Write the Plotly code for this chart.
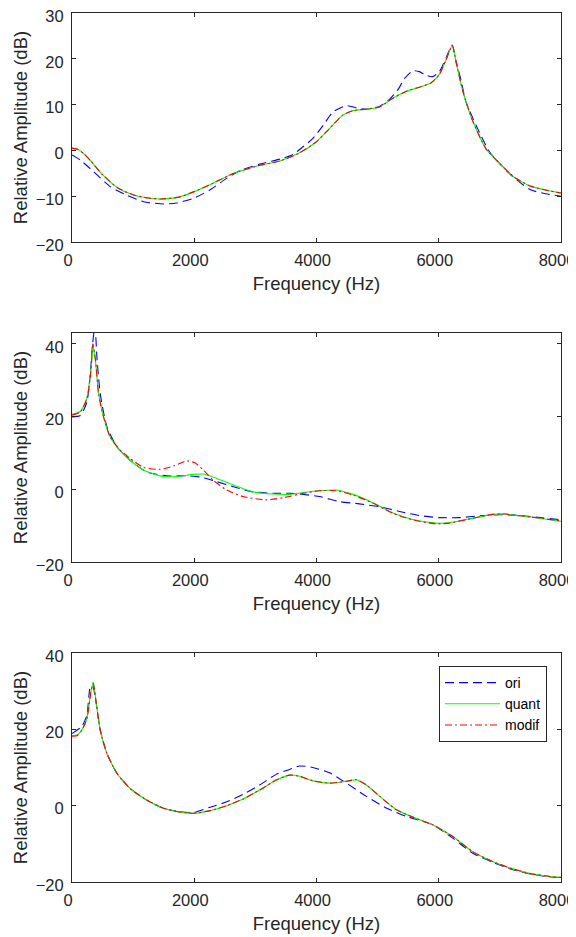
import plotly.graph_objects as go

# ---- data (frequency in Hz, amplitude in dB) ----
# panel 1
f1_ori = [0, 135, 350, 625, 900, 1170, 1500, 1710, 2000, 2260, 2530, 2750, 3070, 3400, 3600, 3780, 3940,
          4110, 4270, 4490, 4650, 4810, 5030, 5190, 5330, 5440, 5575, 5680, 5790, 5900, 6010, 6120, 6220,
          6280, 6360, 6445, 6610, 6830, 7040, 7210, 7500, 7800, 8000]
a1_ori = [-1.0, -2.1, -4.6, -7.9, -9.8, -11.2, -11.7, -11.5, -10.4, -8.6, -6.1, -4.4, -3.0, -1.9, -1.0, 0.8, 2.6,
          5.5, 8.4, 9.75, 9.3, 9.0, 9.6, 11.1, 13.2, 15.7, 17.4, 17.2, 16.4, 16.1, 17.2, 20.2, 23.0,
          19.6, 15.6, 10.6, 5.5, -0.3, -3.5, -5.7, -8.6, -9.6, -10.0]
f1_q = [0, 100, 200, 300, 500, 750, 1000, 1250, 1450, 1750, 2000, 2300, 2650, 3000, 3400, 3700, 4000, 4200,
        4430, 4600, 4800, 5030, 5250, 5470, 5680, 5870, 6010, 6120, 6220, 6290, 6390, 6550, 6770, 7000,
        7230, 7500, 7800, 8000]
a1_quant = [0.5, 0.2, -0.8, -2.2, -5.3, -8.2, -9.7, -10.4, -10.6, -10.2, -9.0, -7.2, -5.0, -3.5, -2.3, -0.7, 1.9,
            4.6, 7.7, 8.7, 9.0, 9.5, 11.4, 12.9, 13.8, 14.7, 16.6, 19.8, 22.9, 18.9, 13.1, 6.6, 0.4, -2.9,
            -5.8, -7.8, -8.8, -9.3]
a1_modif = [0.5, 0.2, -0.8, -2.2, -5.3, -8.2, -9.7, -10.4, -10.6, -10.2, -9.0, -7.2, -5.0, -3.5, -2.3, -0.7, 1.9,
            4.6, 7.7, 8.7, 9.0, 9.5, 11.4, 12.9, 13.8, 14.7, 16.6, 19.8, 22.9, 18.9, 13.1, 6.6, 0.4, -2.9,
            -5.8, -7.8, -8.8, -9.3]

# panel 2
f2_ori = [0, 136, 244, 299, 337, 375, 408, 462, 571, 734, 951, 1220, 1550, 1880, 2090, 2370, 2640, 2960,
          3290, 3560, 3725, 4050, 4380, 4700, 5030, 5360, 5680, 6010, 6340, 6660, 6990, 7230, 7500, 8000]
a2_ori = [19.9, 20.3, 24.0, 31.8, 40.0, 45.0, 36.3, 26.3, 17.2, 11.7, 8.0, 4.8, 3.7, 3.7, 3.4, 2.1, 0.7, -0.7,
          -1.1, -1.1, -1.3, -2.0, -3.4, -4.0, -4.8, -6.1, -7.2, -7.8, -7.8, -7.3, -7.0, -7.1, -7.5, -8.4]
f2_q = [0, 136, 244, 310, 345, 386, 435, 516, 625, 788, 951, 1170, 1440, 1710, 1985, 2150, 2370, 2640, 2960,
        3290, 3560, 3725, 4050, 4320, 4600, 4920, 5250, 5575, 5955, 6170, 6550, 6880, 7100, 7230, 7500, 8000]
a2_quant = [20.6, 21.4, 25.2, 33.0, 39.5, 35.0, 26.3, 19.9, 14.4, 10.6, 8.0, 5.3, 3.7, 3.5, 4.1, 4.2, 3.0, 1.2,
            -0.7, -1.3, -1.4, -1.0, -0.4, -0.2, -1.4, -3.7, -6.5, -8.3, -9.3, -9.2, -8.0, -6.9, -6.8, -7.1,
            -7.6, -8.8]
f2_m = [0, 136, 244, 310, 342, 386, 435, 516, 625, 788, 951, 1170, 1440, 1660, 1880, 2010, 2150, 2310, 2530,
        2800, 3180, 3560, 3725, 4050, 4320, 4600, 4920, 5250, 5575, 5955, 6170, 6550, 6880, 7100, 7230,
        7500, 8000]
a2_modif = [20.4, 21.3, 24.9, 32.7, 40.0, 35.4, 26.3, 19.9, 14.4, 10.8, 8.5, 6.0, 5.5, 6.4, 7.8, 7.3, 5.3, 2.5,
            -0.2, -2.0, -2.9, -2.0, -1.3, -0.4, -0.4, -1.6, -3.8, -6.6, -8.4, -9.5, -9.3, -8.0, -6.9, -6.8,
            -7.1, -7.6, -8.7]

# panel 3
f3_ori = [0, 163, 244, 299, 337, 380, 462, 571, 734, 951, 1220, 1500, 1770, 1985, 2260, 2530, 2800, 3070,
          3340, 3560, 3725, 3940, 4215, 4490, 4810, 5140, 5470, 5900, 6230, 6550, 6880, 7200, 7500, 7800, 8000]
a3_ori = [18.9, 20.8, 23.7, 31.1, 31.4, 28.5, 19.8, 13.7, 8.5, 4.5, 1.5, -0.7, -1.6, -1.8, -0.4, 1.0, 3.0, 5.4,
          8.2, 9.5, 10.4, 10.0, 8.6, 5.9, 2.5, -0.6, -2.8, -5.0, -8.5, -12.4, -14.8, -16.7, -17.9, -18.6, -18.9]
f3_q = [0, 81, 163, 244, 310, 348, 391, 462, 571, 734, 951, 1220, 1500, 1770, 1985, 2260, 2530, 2800, 3070,
        3340, 3560, 3725, 3940, 4215, 4490, 4650, 4810, 5030, 5300, 5575, 5900, 6230, 6550, 6880, 7200,
        7500, 7800, 8000]
a3_quant = [18.4, 18.5, 19.9, 22.9, 30.0, 32.3, 27.6, 19.8, 13.7, 8.5, 4.5, 1.5, -0.7, -1.7, -2.0, -1.3, 0.0,
            1.75, 4.1, 6.7, 8.0, 7.7, 6.5, 5.9, 6.4, 6.8, 5.5, 2.5, -1.0, -3.0, -5.0, -8.1, -12.0, -14.6,
            -16.5, -17.8, -18.5, -18.8]
a3_modif = [18.2, 18.3, 19.8, 22.8, 29.8, 32.0, 27.6, 19.8, 13.7, 8.5, 4.5, 1.5, -0.7, -1.7, -2.0, -1.3, 0.0,
            1.75, 4.1, 6.7, 8.0, 7.7, 6.5, 5.9, 6.4, 6.8, 5.5, 2.5, -1.0, -3.0, -5.0, -8.1, -12.0, -14.6,
            -16.5, -17.8, -18.5, -18.8]

y_ranges = [[-20, 30], [-20, 43], [-20, 40]]
y_ticks = [[-20, -10, 0, 10, 20, 30], [-20, 0, 20, 40], [-20, 0, 20, 40]]
x_ticks = [0, 2000, 4000, 6000, 8000]

panels = [
    (f1_ori, a1_ori, f1_q, a1_quant, f1_q, a1_modif),
    (f2_ori, a2_ori, f2_q, a2_quant, f2_m, a2_modif),
    (f3_ori, a3_ori, f3_q, a3_quant, f3_q, a3_modif),
]

# ---- layout in pixels (the page body adds an 8px margin, so the figure is 8px smaller) ----
OFF = 8
W, H = 576 - OFF, 937 - OFF
ML, MR, MT, MB = 64, 15, 5, 55
plot_w = W - ML - MR
plot_h = H - MT - MB
px_tops = [13, 333, 653]        # page pixels of each panel's top edge
px_bottoms = [242, 562, 882]    # and bottom edge
FONT = 'Liberation Sans, Arial, Helvetica, sans-serif'
AX_COL = '#262626'
TICK_SIZE = 16.5
TITLE_SIZE = 18.5


def py(p):
    # page pixel row -> paper fraction
    return (OFF + MT + plot_h - p) / plot_h


def px(p):
    return (p - OFF - ML) / plot_w


fig = go.Figure()

for i, (fo, ao, fq, aq, fm, am) in enumerate(panels):
    n = '' if i == 0 else str(i + 1)
    show = i == 2
    fig.add_trace(go.Scatter(x=fo, y=ao, mode='lines', name='ori', showlegend=show,
                             line=dict(color='#0000FF', width=1.1, dash='9px,5px', shape='spline', smoothing=0.6),
                             xaxis='x' + n, yaxis='y' + n))
    fig.add_trace(go.Scatter(x=fq, y=aq, mode='lines', name='quant', showlegend=show,
                             line=dict(color='#00FF00', width=1.1, shape='spline', smoothing=0.6),
                             xaxis='x' + n, yaxis='y' + n))
    fig.add_trace(go.Scatter(x=fm, y=am, mode='lines', name='modif', showlegend=show,
                             line=dict(color='#FF0000', width=1.1, dash='7px,3px,2px,3px', shape='spline', smoothing=0.6),
                             xaxis='x' + n, yaxis='y' + n))

    d0 = max(0.0, py(px_bottoms[i]))
    d1 = min(1.0, py(px_tops[i]))
    common = dict(showline=True, linecolor=AX_COL, linewidth=1, mirror='ticks', ticks='inside',
                  ticklen=4, tickwidth=1, tickcolor=AX_COL, showgrid=False, zeroline=False,
                  tickfont=dict(family=FONT, size=TICK_SIZE, color=AX_COL), automargin=False,
                  ticklabeloverflow='allow')
    fig.layout['xaxis' + n] = dict(common, range=[0, 8000], tickvals=x_ticks, domain=[0, 1],
                                   anchor='y' + n, ticklabelstandoff=3, ticklabelshift=-4,
                                   title=dict(text='Frequency (Hz)', standoff=9,
                                              font=dict(family=FONT, size=TITLE_SIZE, color=AX_COL)))
    fig.layout['yaxis' + n] = dict(common, range=y_ranges[i], tickvals=y_ticks[i], domain=[d0, d1],
                                   anchor='x' + n, ticklabelstandoff=4, ticklabelshift=3,
                                   title=dict(text='Relative Amplitude (dB)', standoff=3,
                                              font=dict(family=FONT, size=TITLE_SIZE, color=AX_COL)))

fig.update_layout(
    width=W, height=H,
    margin=dict(l=ML, r=MR, t=MT, b=MB),
    paper_bgcolor='white', plot_bgcolor='white',
    font=dict(family=FONT, size=TICK_SIZE, color=AX_COL),
    legend=dict(x=px(547), y=py(666), xanchor='right', yanchor='top',
                bgcolor='white', bordercolor=AX_COL, borderwidth=1,
                font=dict(family=FONT, size=14, color='black'), itemwidth=55, tracegroupgap=0),
)

fig.write_html("out.html")
